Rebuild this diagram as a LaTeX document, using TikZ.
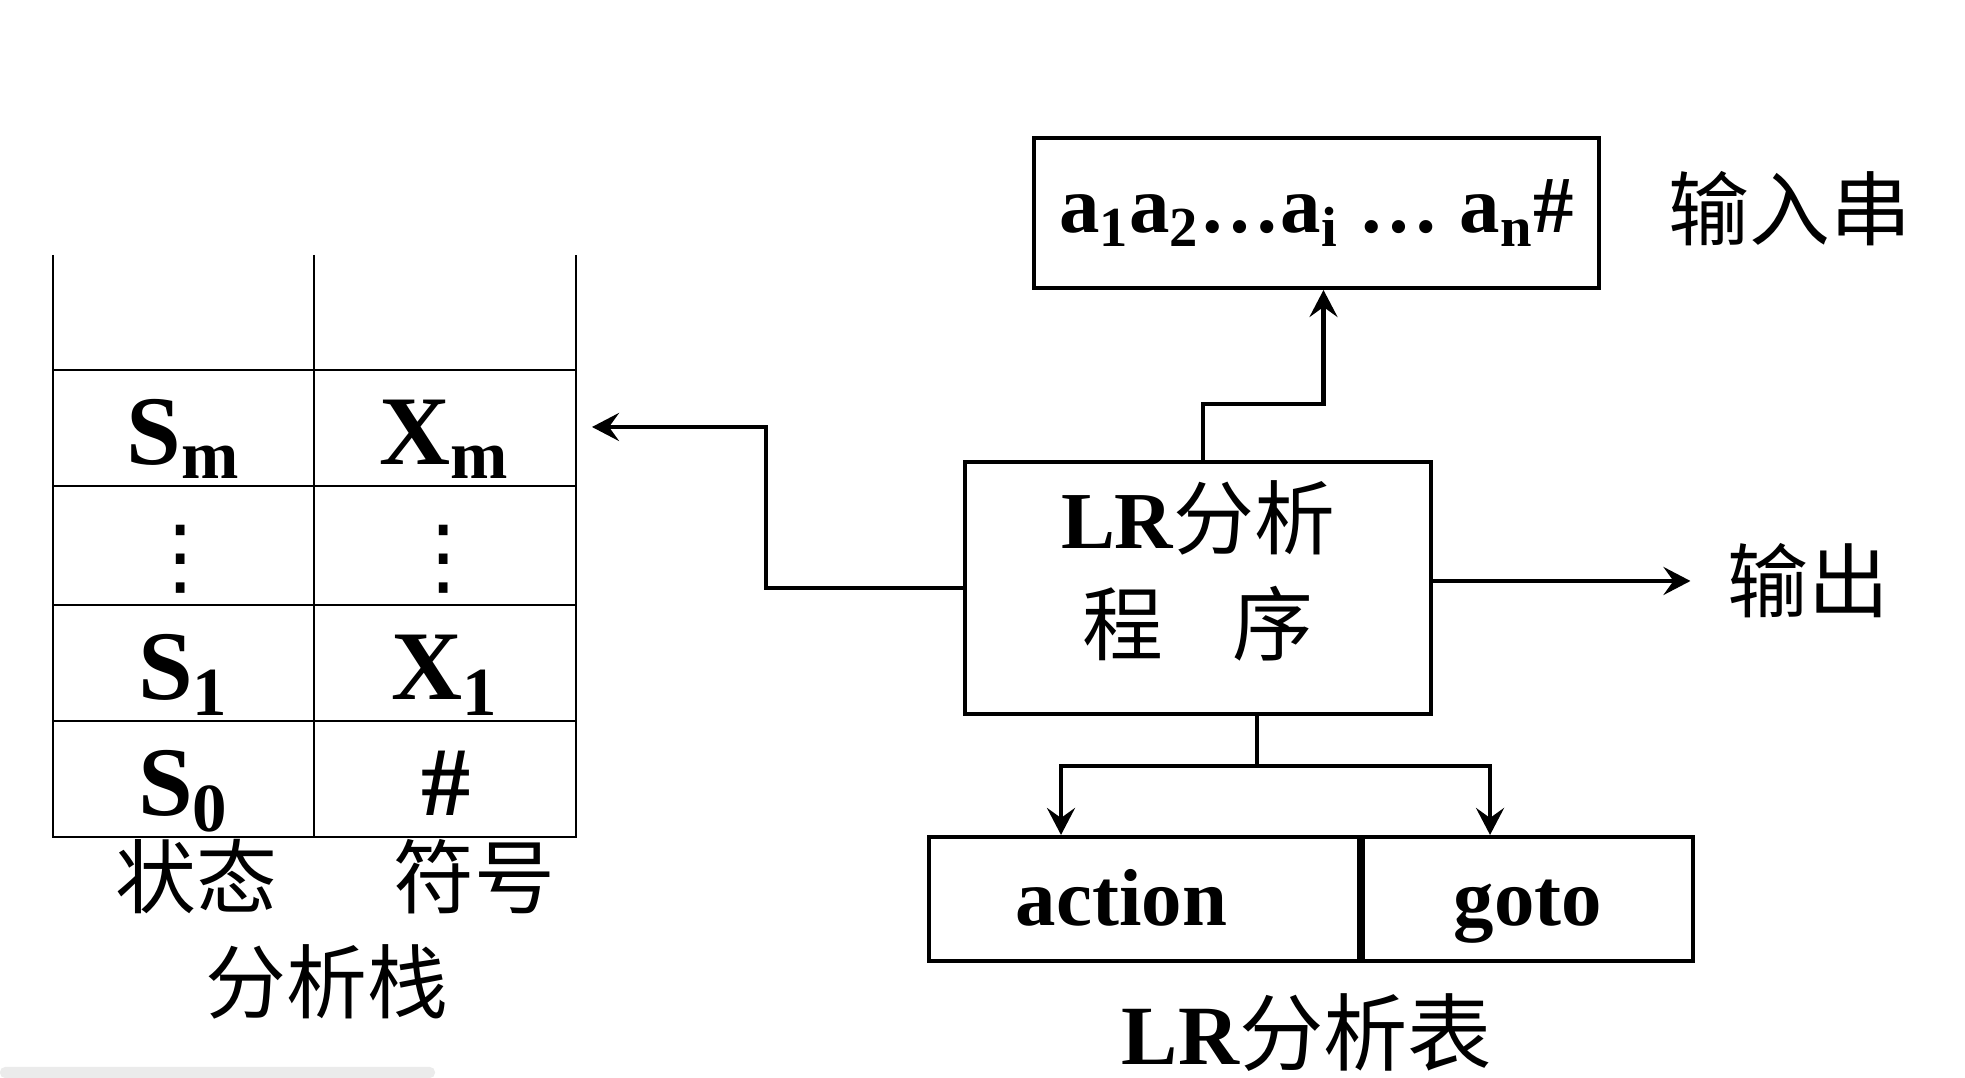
\documentclass[tikz,border=0pt]{standalone}
\usepackage{fontspec}
\setmainfont{Liberation Serif}
\newfontfamily\cjk{Noto Sans CJK SC}
\newfontfamily\symb{DejaVu Sans}
\usetikzlibrary{arrows.meta}

\begin{document}
\begin{tikzpicture}[
  box/.style={draw,line width=1.15pt,inner sep=0pt,font=\fontsize{23}{30}\selectfont\bfseries},
  cell/.style={anchor=base,inner sep=0pt,font=\fontsize{28}{34}\selectfont\bfseries},
  vdot/.style={inner sep=0pt,font=\fontsize{24}{28}\selectfont\symb},
  lbl/.style={inner sep=0pt,font=\fontsize{23}{28}\selectfont\cjk},
  conn/.style={line width=1.15pt},
  arr/.style={conn,-{Stealth[length=0.27cm,width=0.28cm,inset=0.1cm]}},
  grid/.style={line width=0.7pt}
]
\useasboundingbox (0,0) rectangle (19.65,-10.78);
\fill[black!8,rounded corners=0.05cm] (0,-10.67) rectangle (4.35,-10.78);

% analysis stack
\draw[grid] (0.53,-2.55) -- (0.53,-8.37) -- (5.76,-8.37) -- (5.76,-2.55);
\draw[grid] (3.14,-2.55) -- (3.14,-8.37);
\foreach \y in {-3.70,-4.86,-6.05,-7.21}
  \draw[grid] (0.53,\y) -- (5.76,\y);

\node[cell] (sm) at (1.835,-4.65) {S\textsubscript{m}};
\node[cell] (xm) at (4.45,-4.65) {X\textsubscript{m}};
\node[vdot] (sdots) at (1.81,-5.59) {⋮};
\node[vdot] (xdots) at (4.435,-5.59) {⋮};
\node[cell] (s1) at (1.835,-7.00) {S\textsubscript{1}};
\node[cell] (x1) at (4.45,-7.00) {X\textsubscript{1}};
\node[cell] (s0) at (1.835,-8.16) {S\textsubscript{0}};
\node[cell] (x0) at (4.46,-8.16) {\#};

\node[lbl] (state) at (1.96,-8.77) {状态};
\node[lbl] (symbol) at (4.74,-8.77) {符号};
\node[lbl] (stack) at (3.27,-9.82) {分析栈};
\coordinate (push) at (5.92,-4.27);

% input string
\node[box,minimum width=5.65cm,minimum height=1.50cm] (inp) at (13.165,-2.13)
  {a\textsubscript{1}a\textsubscript{2}\ldots a\textsubscript{i} \ldots{} a\textsubscript{n}\#};
\node[lbl] (inlbl) at (17.90,-2.09) {输入串};

% LR driver program
\node[box,minimum width=4.66cm,minimum height=2.52cm] (lr) at (11.98,-5.88) {};
\node[box,draw=none,align=center] (lrtxt) at ([yshift=0.17cm]lr.center)
  {LR{\cjk\mdseries 分析}\\{\cjk\mdseries 程\hspace{0.85em}序}};
\node[lbl] (out) at (18.08,-5.81) {输出};

% LR table
\node[box,minimum width=4.30cm,minimum height=1.24cm,text height=20.7pt,text depth=5.75pt] (act) at (11.44,-8.99) {action\hbox to 0.45cm{}};
\node[box,minimum width=3.30cm,minimum height=1.24cm,text height=20.7pt,text depth=5.75pt,anchor=west] (gto) at (act.east) {goto};
\node[inner sep=0pt,font=\fontsize{24}{29}\selectfont\bfseries] (table) at (13.07,-10.33) {LR{\cjk\mdseries 分析表}};

% connectors
\draw[arr] ([xshift=0.05cm]lr.north) |- (12.6,-4.04) -| ([xshift=0.07cm]inp.south);
\draw[arr] (lr.west) -| (7.66,-4.27) -- (push);
\draw[arr,shorten >=0.36cm] (lr.east |- out) -- (out);
\coordinate (fork) at (12.57,-7.66);
\draw[conn] (lr.south -| fork) -- (fork);
\draw[arr] (fork) -| ([xshift=-0.83cm]act.north);
\draw[arr] (fork) -| ([xshift=-0.38cm]gto.north);
\end{tikzpicture}
\end{document}
